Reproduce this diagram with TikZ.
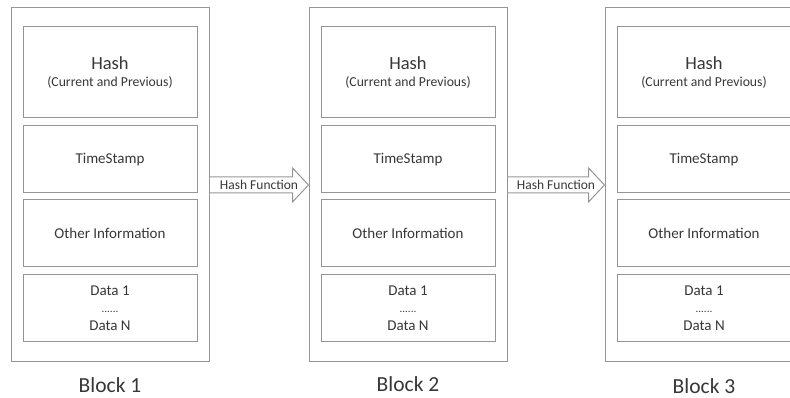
\documentclass[tikz,border=0pt]{standalone}
\usepackage{fontspec}
\setmainfont{Carlito}
\usetikzlibrary{calc}
\definecolor{boxline}{RGB}{150,150,150}
\definecolor{txt}{RGB}{55,55,55}

\begin{document}
\begin{tikzpicture}[x=1pt,y=1pt,
  outer/.style={draw=boxline, line width=1pt, minimum width=198pt, minimum height=354pt, inner sep=0pt},
  field/.style={draw=boxline, line width=1pt, minimum width=174pt, minimum height=67pt, inner sep=0pt, align=center, text=txt, font=\fontsize{15}{18}\selectfont},
  caption/.style={text=txt, inner sep=0pt, font=\fontsize{21.5}{26}\selectfont},
  hashfn/.style={draw=boxline, line width=1pt},
]
\useasboundingbox (0,0) rectangle (790,398);
\clip (0,0) rectangle (790,398);

% block 1
\node[outer] (blk1) at (110,213) {};
\node[field, minimum height=91pt] (hash1) at (110,325.5) {{\fontsize{18.5}{22}\selectfont Hash}\\[-1pt]{\fontsize{13.7}{16}\selectfont (Current and Previous)}};
\node[field] (time1) at (110,238.5) {TimeStamp};
\node[field] (other1) at (110,164.5) {Other Information};
\node[field] (data1) at (110,89.5) {Data 1\\[-1pt]{\fontsize{11}{13}\selectfont ......}\\[0pt]Data N};
\node[caption] (cap1) at ($(blk1.south)+(0,-23)$) {Block 1};

% block 2
\node[outer] (blk2) at (408,213) {};
\node[field, minimum height=91pt] (hash2) at (408,325.5) {{\fontsize{18.5}{22}\selectfont Hash}\\[-1pt]{\fontsize{13.7}{16}\selectfont (Current and Previous)}};
\node[field] (time2) at (408,238.5) {TimeStamp};
\node[field] (other2) at (408,164.5) {Other Information};
\node[field] (data2) at (408,89.5) {Data 1\\[-1pt]{\fontsize{11}{13}\selectfont ......}\\[0pt]Data N};
\node[caption] (cap2) at ($(blk2.south)+(0,-22)$) {Block 2};

% block 3
\node[outer] (blk3) at (704,213) {};
\node[field, minimum height=91pt] (hash3) at (704,325.5) {{\fontsize{18.5}{22}\selectfont Hash}\\[-1pt]{\fontsize{13.7}{16}\selectfont (Current and Previous)}};
\node[field] (time3) at (704,238.5) {TimeStamp};
\node[field] (other3) at (704,164.5) {Other Information};
\node[field] (data3) at (704,89.5) {Data 1\\[-1pt]{\fontsize{11}{13}\selectfont ......}\\[0pt]Data N};
\node[caption] (cap3) at ($(blk3.south)+(0,-24)$) {Block 3};

% hash function arrows
\draw[hashfn] ($(blk1.east)+(0,8)$) -- ($(blk2.west)+(-16,8)$) -- ($(blk2.west)+(-16,17)$) -- (blk2.west)
  -- ($(blk2.west)+(-16,-17)$) -- ($(blk2.west)+(-16,-8)$) -- ($(blk1.east)+(0,-8)$);
\node[text=txt, font=\fontsize{13.5}{16}\selectfont] (fn1) at ($(blk1.east)!0.5!(blk2.west)$) {Hash Function};
\draw[hashfn] ($(blk2.east)+(0,8)$) -- ($(blk3.west)+(-16,8)$) -- ($(blk3.west)+(-16,17)$) -- (blk3.west)
  -- ($(blk3.west)+(-16,-17)$) -- ($(blk3.west)+(-16,-8)$) -- ($(blk2.east)+(0,-8)$);
\node[text=txt, font=\fontsize{13.5}{16}\selectfont] (fn2) at ($(blk2.east)!0.5!(blk3.west)$) {Hash Function};
\end{tikzpicture}
\end{document}
